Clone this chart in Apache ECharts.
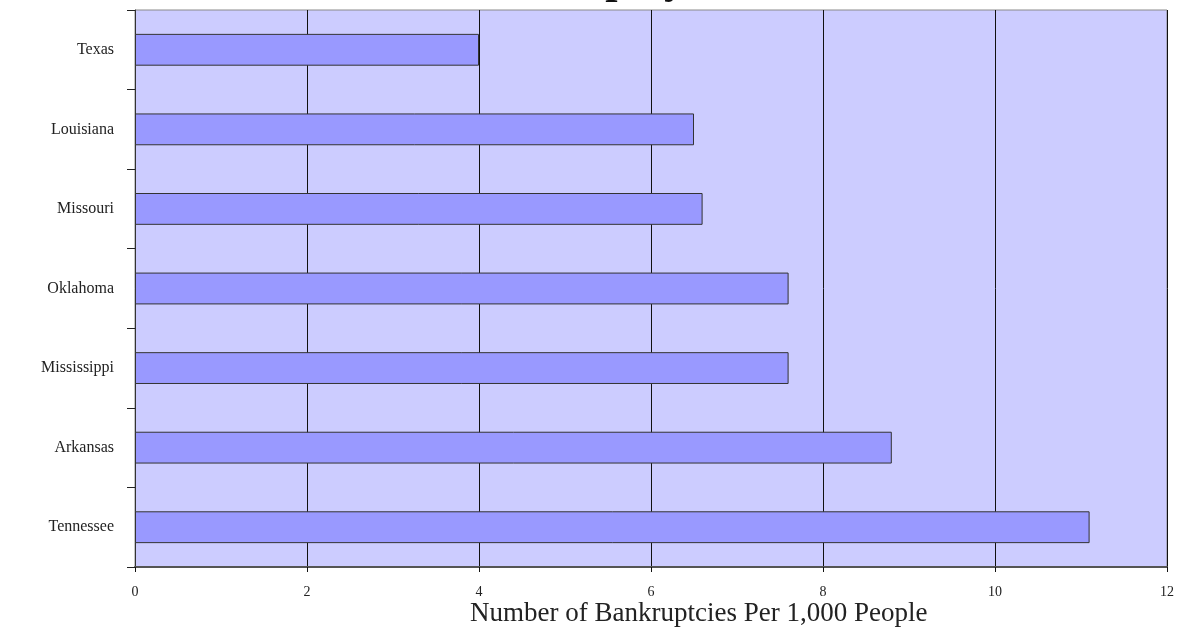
<!DOCTYPE html>
<html>
<head>
<meta charset="utf-8">
<script src="https://cdn.jsdelivr.net/npm/echarts@6/dist/echarts.min.js"></script>
<style>
  html, body { margin: 0; padding: 0; background: #ffffff; }
  #chart { width: 1183px; height: 629px; }
</style>
</head>
<body>
<div id="chart"></div>
<script>
// States, listed top to bottom
const states = ['Texas', 'Louisiana', 'Missouri', 'Oklahoma', 'Mississippi', 'Arkansas', 'Tennessee'];
// Bankruptcies per 1,000 people
const rates = [4.0, 6.5, 6.6, 7.6, 7.6, 8.8, 11.1];
// Value axis ticks
const xTicks = [0, 2, 4, 6, 8, 10, 12];

const serif = '"Liberation Serif", "DejaVu Serif", serif';
const chart = echarts.init(document.getElementById('chart'), null, { renderer: 'canvas' });

chart.setOption({
  animation: false,
  backgroundColor: '#ffffff',
  title: {
    text: 'Bankruptcy',
    left: 456,
    top: -45,
    textStyle: { fontFamily: serif, fontSize: 44, fontWeight: 'bold', color: '#111' }
  },
  grid: {
    left: 135, right: 16, top: 10, bottom: 62,
    show: true,
    backgroundColor: '#CCCCFF',
    borderColor: '#8a8a8a',
    borderWidth: 1
  },
  xAxis: {
    type: 'value',
    min: xTicks[0],
    max: xTicks[xTicks.length - 1],
    interval: xTicks[1] - xTicks[0],
    axisLine: { show: true, lineStyle: { color: '#555', width: 2 } },
    axisTick: { show: true, length: 5, lineStyle: { color: '#111' } },
    axisLabel: { fontFamily: serif, fontSize: 14, color: '#222', margin: 18 },
    splitLine: { show: true, lineStyle: { color: '#111', width: 1 } }
  },
  yAxis: {
    type: 'category',
    data: states,
    inverse: true,
    axisLine: { show: true, lineStyle: { color: '#333', width: 1 } },
    axisTick: { show: true, length: 8, alignWithLabel: false, lineStyle: { color: '#222' } },
    axisLabel: { fontFamily: serif, fontSize: 16, color: '#222', margin: 21 },
    splitLine: { show: false }
  },
  series: [{
    type: 'bar',
    data: rates,
    barWidth: '40%',
    itemStyle: { color: '#9999FF', borderColor: '#333', borderWidth: 1 }
  }],
  graphic: [{
    type: 'text',
    left: 470,
    top: 600,
    style: {
      text: 'Number of Bankruptcies Per 1,000 People',
      font: '27px ' + serif,
      fill: '#222'
    }
  }]
});
</script>
</body>
</html>
